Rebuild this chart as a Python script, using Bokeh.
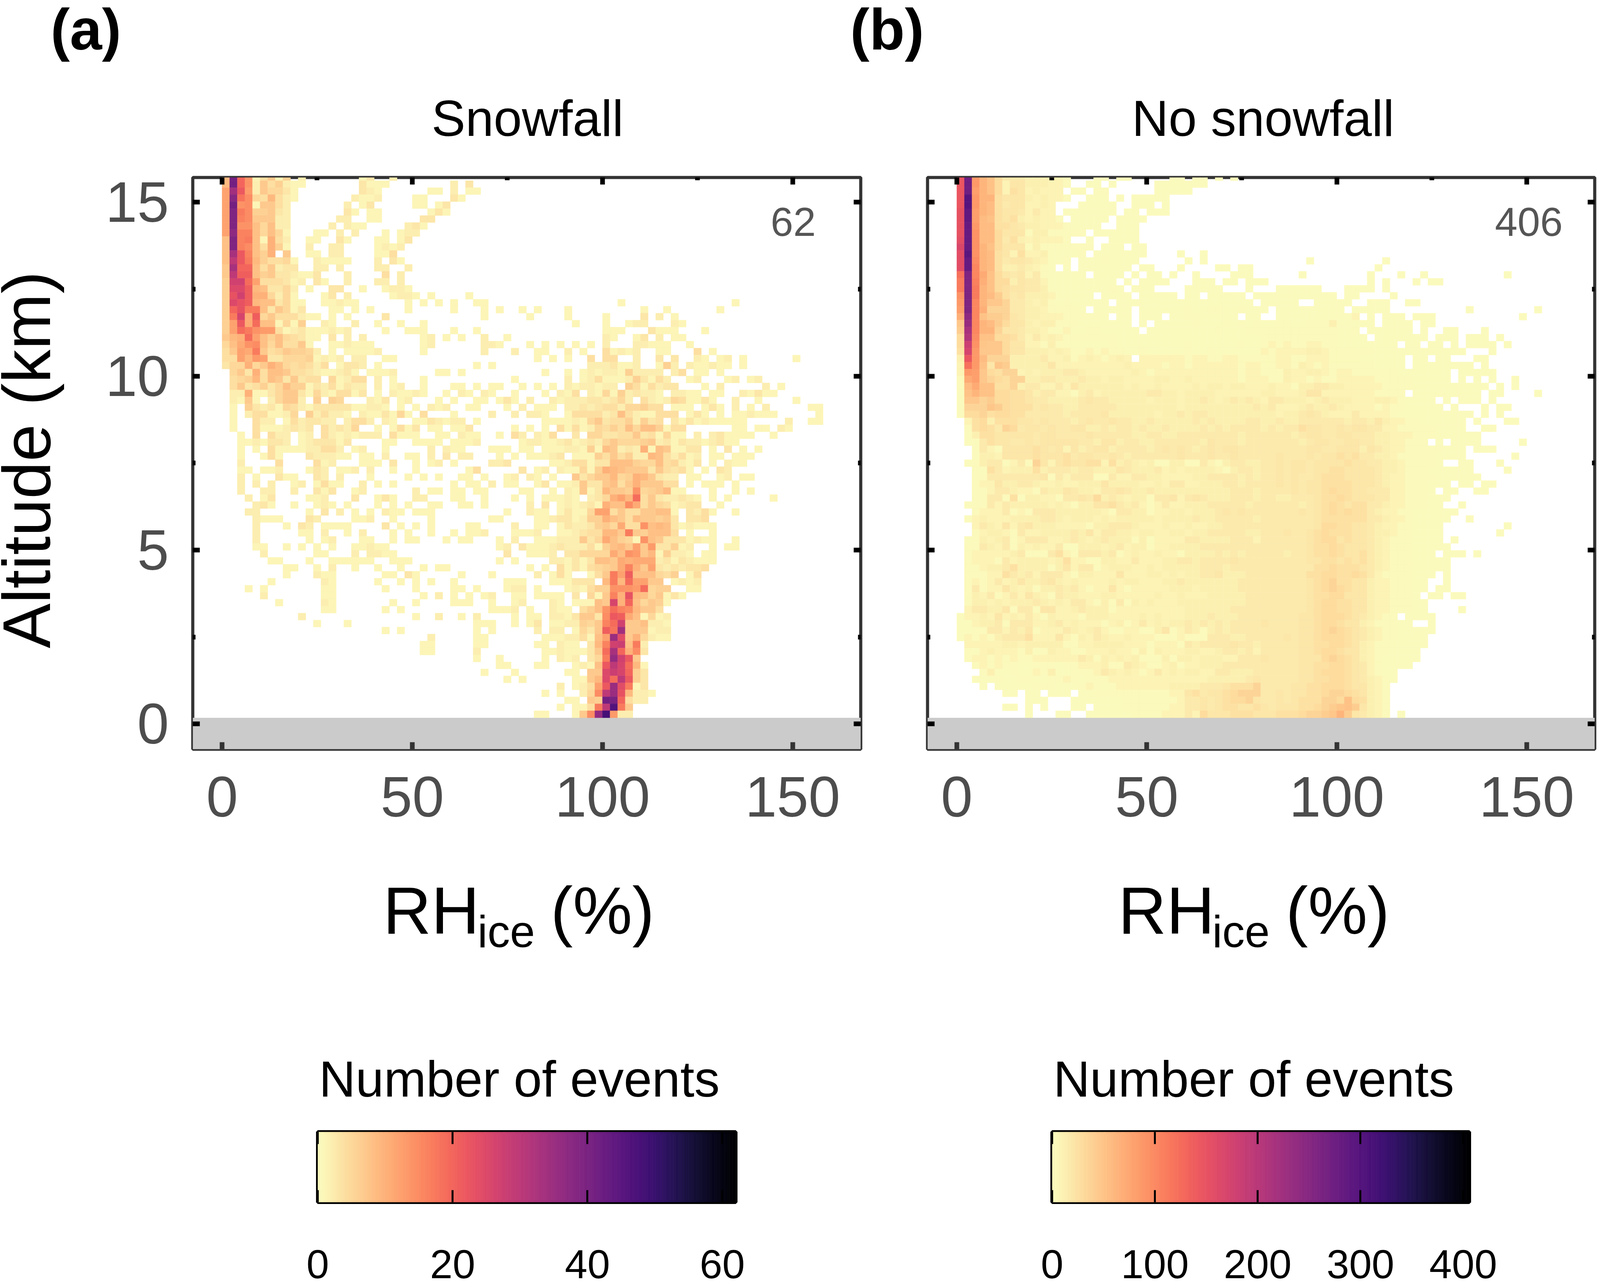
import numpy as np
from bokeh.embed import file_html
from bokeh.resources import INLINE
from bokeh.layouts import column, row
from bokeh.models import Label, LinearAxis, FixedTicker, Range1d, ColumnDataSource
from bokeh.palettes import Magma256
from bokeh.plotting import figure
from bokeh.transform import linear_cmap

# Each row (top of the plot first) holds "column:cells" pieces; a cell is one character of LEVELS.
LEVELS = "0123456789abcdefghijklmnopqrstuvwxyzABCDEFGHIJKLMNOPQRSTUVWXYZ"
RH_BIN = 2.0
ALT_BASE = 0.18
ALT_BIN = 0.2005
GROUND_TOP = 0.18

SNOWFALL_ROWS = [
"0:9Fke14716.2 18:13 22:2",
"0:9Fke2746211 18:3111 30:2.3",
"0:cymd275531 18:321 27:11 30:2 32:11",
"0:cCif549421 17:2112 25:11 30:31",
"0:cFef17742 16:2.13 25:11.13",
"0:cDhf66732 16:31 19:11 27:131",
"0:cDgf77722 15:22 19:11 26:33",
"0:cDee85822 14:2.211 24:231",
"0:cBgg85851 12:11.2.2 21:1.122",
"0:8Dgh81a42 11:11 15:31 20:11.13",
"0:8Dgf84a61 11:2 14:22 20:1212",
"0:8xmg86a.7 11:11 14:22 20:114",
"0:8umh964451 12:21111 20:2.31",
"0:7xkk847233 12:22.2 20:22..2",
"0:7ull86733211 12:3...2 21:4.2",
"0:6rrjc444312.31 16:2 20:22.2",
"0:6ppl983352.1 14:33 18:1 21:1221",
"0:6nrlaa5251 13:13.2 22:1221.1 32:1",
"0:6pnl9883511 13:11211 24:1.1.1.1 33:11 52:1 67:1",
"0:6knhh837513 14:11.1.1 24:1 30:1 34:1.1 39:1 41:1 45:1 55:1 58:1 65:1",
"0:6hqbl57444211 14:1.1 21:3 34:1 40:1 45:1 50:1 55:3 57:2 59:1",
"0:6cmbj881516 13:21 17:2 20:1 23:1 26:1 46:1 50:1 53:122 59:21",
"0:6cjhedd4123111212 21:1 24:111 30:1 33:1 50:111 56:3111 63:1",
"0:79ajc86854311.3.2.2 26:12.1.1 34:2 37:1 50:21 54:13.2.11",
"0:58bef8584471 14:112111 26:12 34:221 40:1.1.1.1.1.2 54:22111 61:1",
"0:47cbh74576652.1.11112 26:1 34:2 38:2 41:11 45:2.1 50:41212 57:11 62:4 64:1",
"0:44c9dc3355561212.22..11 41:1.1.1 48:4.44 54:2 57:3.3 62:21.12 68:1 75:1",
"0:355a57a8545424.1332.1 33:1.1 48:2223112 57:162 61:211211 68:1",
"1:573a4887443211231.1112 28:11 31:1 42:1 45:1.12122162222.24.11.1",
"1:456948737344.51244.2.1 26:1 38:1 45:2.124111263142 61:12 66:12 69:12",
"1:473463586613241322.2.12..1 30:11 33:1 35:11 39:1 41:1.1.2122122.6414233 63:1 65:2 71:2 73:1",
"1:22a113577315214413.1.21121..1.21.21..1 42:1 44:214.2151623221 59:2211 64:11 68:21311",
"1:2171.25772.6.65...213.12...1.1..11.131.2 43:21222332352.4212541131 67:2 70:1 75:1",
"1:1.6323154213333311221.1.1.212..11...1.2 41:111.2232344255644 59:111 63:131 67:2.1.2 77:11",
"1:1.2441125.624221.2113151.4...1....2..2.2 40:221 45:144442384211444 61:131 65:1 67:112111 78:1",
"1:1..422.1423322.2442.21..1132122.1 42:1111215734462634 59:3131211111 74:2 77:11",
"1:1..41112323.42325..1.1413.11.113.....1.1 40:1 42:1 44:41412546485886144 67:11 70:11 73:21",
"2:1.4.422.12.42121222.4111..11.211..1.42 41:214 46:3 48:5533447341511.2.231111..1",
"2:1121332.1233313....11..1111.1112.....11 39:12211231232575556723132212311",
"2:1.1.4111122442.12..1.....2.211...111.11 39:11.1112216187232a1871133.1.3.1.1",
"2:1..141...322211.11.2..11.2.3.22...1.1 36:1.1.11123.11164746229842412.11.111",
"2:2 7:4 12:412 18:111 22:3 25:1 27:12 30:1 35:223 43:11244133888655845213.1.211",
"2:11 5:112 11:132.112.2 22:1 25:1 32:14 39:3.12.211516a98777374341.1.32",
"2:2.1 7:311 12:32.2 19:1 24:1 26:1 28:1 31:11 34:1 37:12.21.1..73577956a97322.11..12.11",
"2:2.2.2 9:12 12:1411 18:2 20:1 22:1 30:1 32:11 35:2.11..13.1127337847a77744.1.111.1",
"2:2 5:22 9:2 12:313 17:12 25:2 27:11 30:11 33:11 39:11..1.217139776e567911...1..1.1",
"3:2.13 11:112 17:3 20:131 25:22 30:11 34:1 38:1.1.11121.235ac9j47322321.1.1.....1",
"4:231 9:1 12:121.1 20:1 22:1 24:1 27:11 31:11 34:1 40:2.3.121231a88fb47541233..1",
"3:22 11:1.3.2.1.1.2 22:11 25:111 37:1..211.13115cc474477881.3241..1",
"4:2111 11:32 17:112 22:1 27:1 35:11....112331266a874877673.334",
"4:2 8:1.32.1111 21:3.1.1.1 32:11 38:2..11.13223675b44e898312111",
"4:2 10:11.2 16:1.2 22:1.1 27:1 30:1 32:112 38:1112..112344997h768884.1..1",
"4:2 11:1.12 18:11 22:1.11 29:1.11 36:1.2..111222735b8651e873331211..1",
"4:11 8:1.1.1.1 17:11211 36:12.311123222416897c7d33612..1.11",
"5:2 12:11 17:2.2211 37:3..1112.335555b8ed7916221.11",
"6:11 11:1 14:111111 22:111 36:1.1....221313887babbb23132111",
"8:11 12:1.2 17:1 20:1 23:1 26:1 28:11 40:1.1.41314567bga7c3232334",
"8:1 12:211 21:11.31 31:1 35:1 41:2.141..147hcl888546.14",
"6:1 13:21 20:1 23:1 25:1 27:1 30:1 37:111...111333.9h9jcc77.1212",
"3:1.1 13:11 21:1 25:1 30:11 33:1 37:122.1...121466eeedj566..11",
"5:2 13:11 26:1.2 30:1.1 34:1 35:2..11.1111.3.517gan9857131",
"7:1 13:21 22:1 25:1 30:111 35:1..12...21.11187qak85761",
"13:11 21:1 23:1 35:1112.1..211.468ejgf9774",
"10:2 25:1 28:2 31:1 33:2 38:1.11.2213773fmlb81512",
"12:1 16:1 33:11 35:1..1.13.1122657gjr778221",
"21:1 23:1 33:1.1 41:2.22.1537liy777122",
"27:2 33:11 42:11122418czo7a5211",
"26:11 33:11 41:11.211.39grs8h2",
"26:11 33:2 42:11211137jxkaf3",
"33:1 36:1 42:1.212.35hArm7",
"36:11 41:11...1218muqj91",
"34:1 38:1 45:11.77psqk63",
"37:1.1 46:1179pjum63",
"44:2.124cmzoh13",
"42:1.1 47:25fuzn9221",
"45:11.76FEk422",
"44:1.114huKh7",
"41:11 46:17fAMd22",
]

# In this panel the levels stand for event counts through NOSNOW_COUNTS below.
NO_SNOWFALL_ROWS = [
"0:vUjec7444333221 18:00 21:00 28:00 31:00 34:0 36:0",
"0:vUjec7255333221 17:00.0 26:0000000",
"0:vUiec726523222.11.11 26:00000",
"0:vZjee6555323221..000.0.00000",
"0:vZjed64552232 16:00000 23:000 27:0",
"0:wXied65542422.0000000.00.000",
"0:wXidc656323221.00000.0000",
"0:wWjdd66543322210000..000",
"0:wWkdd755513311111.000000",
"0:xWkdd7463232221..0..0000",
"0:zWkec7555131111111.000.00",
"0:xYked652622300001.0000000 29:0 32:0",
"0:xWled6455432001.00010000 30:0 32:0 46:0 56:0",
"0:xWmed63343210.0.0000000.00 29:0 34:00 37:00 55:0",
"0:qRmgc754524100000.0000.0.00 28:0 31:0 36:000 45:0 54:0 58:0 61:0 72:0",
"0:oRnfc7735442000000000.0.0000 31:000 35:00 38:000 54:0 56:0 60:0 62:00",
"0:oRoec76554430000000010.000....00000...0 42:000000 51:0000 56:0",
"0:kRoed964533320000 17:0.0000.00000.00.00000.00 41:000000000 51:00 57:0",
"0:jRmebb8443 10:2310100000 20:.000000000 30:000000000. 40:00000 47:00000 54:000 59:00",
"0:iRmf888443 10:3211110.00 20:000.000000 30:1001100100 40:0.00000000 50:0.00000 67:0 76:0",
"0:fOmc998543 10:3222111110 20:.00.000.00 30:1100000.00 40:..00000000 50:002.0.000. 60:000 74:0",
"0:bMmed97553 10:2331110000 20:000.0.0000 30:0100010101 40:0011001113 50:00000.0000 60:.00",
"0:9Jmee85543 10:3210200110 20:0000.00000 30:0000100011 40:1111111111 50:001.000000 60:.0 64:00 69:0",
"0:7Hlcc77642 10:4232111111 20:1000000000 30:0000000000 40:1111111111 50:0000.00000 60:00.000.000 71:0",
"0:7Ckabb7552 10:2131100000 20:1000000000 30:1000000100 40:1212112211 50:00000000.0 60:0.00.0.0000.0",
"0:6Ajbbb7553 10:3323211212 20:1100100000 30:1001000000 40:2122223321 50:1111100000 60:0000000 70:0",
"0:3vjd888333 10:3422312321 20:232.222222 30:1221122111 40:1122112221 50:111000000. 60:00.00 68:00",
"0:2qjc5a9333 10:3352222222 20:2232222122 30:1222222122 40:1122132121 50:111110000. 60:00000000.0",
"0:2jib768823 10:2333443222 20:2223212222 30:2222222122 40:1113223321 50:2211111100 60:00000.0000 70:0",
"0:1gib876883 10:3443334332 20:3322223322 30:3222222122 40:2113221211 50:2222211111 60:00000.0.0.0 73:0",
"0:1dgcc66834 10:4224253333 20:3323223222 30:2323323322 40:2322133443 50:3222221111 60:0000000000 71:0 73:0",
"0:0cecc77665 10:3442213423 20:3333344332 30:3333222222 40:3322235522 50:222221111. 60:000000000. 70:00 76:0",
"0:0bb8977665 10:4433334544 20:3333323332 30:3343234343 40:2443332343 50:3322233210 60:000.0.000.0",
"0:0888a97666 10:4544334444 20:4333333332 30:3333333334 40:3422234334 50:3222212110 60:0000.0...0 71:00",
"0:0778677664 10:4444344445 20:3333332334 30:3443333333 40:3323345432 50:2242222100 60:00000000.0 71:0",
"0:.267366655 10:4544434544 20:5443343333 30:3434333344 40:3343344444 50:4344353221 60:1000000 68:0 72:00",
"0:.167648745 10:5454455334 20:3443433433 30:3343434444 40:3434465544 50:5455442211 60:1110000 69:00",
"0:.036655555 10:4554444544 20:4443344334 30:4444444344 40:4444345544 50:5544433222 60:111000000",
"0:.004655445 10:4555554435 20:5344334444 30:4435444344 40:4444434554 50:4554433221 60:11.0.0000 74:0",
"0:..04215555 10:6545253455 20:3444434545 30:4345455444 40:4444445544 50:5553543221 60:1111000 68:000",
"0:..03325555 10:6555645544 20:5434444445 30:4445445444 40:4454445455 50:6564433211 60:1110000 73:0",
"0:.013441241 10:8525655662 20:6343231133 30:1142134433 40:4454554555 50:5655443321 60:1110 66:00 71:0",
"0:..10642333 10:6344434433 20:3543334232 30:3333213443 40:4454554556 50:6555543321 60:11000000 72:0",
"0:..11444444 10:4514244411 20:4224433222 30:2334444343 40:4454544566 50:6555543221 60:111000000",
"0:..12253344 10:3223223335 20:3333223244 30:2233344344 40:4454545566 50:6655543221 60:11000.00.00",
"0:..11244322 10:1433543324 20:4543343333 30:3333334443 40:4444545567 50:6655444221 60:110.00 68:00",
"0:..11441603 10:3221445473 20:4323314452 30:4543334443 40:4433444566 50:7655544221 60:11000",
"0:.011424333 10:3323213355 20:6434212422 30:3334444434 40:4444434567 50:6566443221 60:1100..0",
"0:..12224121 10:4443333332 20:1443312233 30:2333454544 40:4444454567 50:6766432211 60:000000",
"0:.023222333 10:3443233323 20:2333332333 30:3433444443 40:4444444566 50:6666443221 60:00000 67:0",
"0:..24325245 10:3332222133 20:4443222322 30:3223344444 40:4444444577 50:6655432211 60:0000 72:0",
"0:..12332142 10:2333343524 20:4332332233 30:2334444433 40:4445445676 50:6655433211 60:0000 71:0",
"0:.013234124 10:4422343234 20:3331302222 30:4433334442 40:4444445677 50:5655432111 60:0000.0",
"0:.114324132 10:3224003332 20:3423312233 30:3344444444 40:4444445667 50:6555432111 60:00000",
"0:.122222341 10:1146214443 20:4123223221 30:3333434344 40:4443445667 50:6556432111 60:000.000 68:0",
"0:.122214233 10:3323622113 20:3224222334 30:4344445444 40:4444445566 50:5656432111 60:00000",
"0:.112334633 10:3313524412 20:3332232333 30:3344434444 40:4444444667 50:6665432111 60:00000",
"0:.111226434 10:2444213322 20:2522233232 30:3344533344 40:4444446677 50:6676421111 60:000.0",
"0:.121242353 10:3453232222 20:3233222334 30:3333333444 40:4444445678 50:6655322111 60:00..0",
"0:.141225323 10:1334342122 20:5212222233 30:3233333444 40:4444445678 50:7655322111 60:00.00",
"0:.132412425 10:3214332223 20:3222223223 30:2223333344 40:4444445667 50:7555322111 60:0.00.00",
"0:.133232333 10:4323244213 20:1413232223 30:3333333344 40:4444445677 50:6655322111 60:00",
"0:.244335144 10:1552234333 20:1222222222 30:3333334444 40:4444445677 50:6655322111 60:00 66:0",
"0:0223252324 10:2132221333 20:2222323222 30:3334333444 40:4444455677 50:76543211.0 60:000",
"0:0023341444 10:2234232221 20:2312423233 30:4343434444 40:5444455677 50:6553211100 60:..0",
"0:0011442435 10:1222432342 20:1122113512 30:4313434444 40:4444455678 50:7654321100 60:000",
"0:0212134446 10:2225213243 20:2232221112 30:1114443344 40:4445455677 50:7654321100 60:00",
"0:.222223323 10:3333112233 20:3322212221 30:4344445443 40:4444455667 50:7653211000 60:00",
"0:.102322213 10:0132211222 20:3221313222 30:3322344342 40:4444455677 50:6553211000 60:0",
"0:.122121211 10:2222224313 20:2323111313 30:3233322444 40:5444455578 50:7653210000 60:0",
"0:..12121100 10:1110112223 20:1143211231 30:2233344444 40:4444455667 50:7654210000",
"0:...1300100 10:2130011124 20:3232124232 30:3322443334 40:4444455677 50:76542100",
"0:..00010011 10:0011210111 20:2222222222 30:2223333345 40:4444455667 50:76543210",
"0:...0.00000 10:1110001210 20:1222222233 30:3344456668 40:4444556677 50:7655321",
"0:......00.0 10:0.000.0011 20:1111111122 30:5645567888 40:4454556678 50:8765321",
"0:.........0 10:00...00000 20:0011111112 30:4454567785 40:4454566688 50:7c76321",
"0:......00.0 10:.0...00.00 20:0011111122 30:4454566556 40:5455566789 50:ac95321",
"0:.........0 10:...00..000 20:0001111222 30:4275556665 40:556667889a 50:e954321 58:0",
]

SNOW_COUNTS = [i for i in range(62)]
NOSNOW_COUNTS = [2, 4, 8, 12, 16, 20, 25, 30, 35, 42, 48] + [5 * i - 8 for i in range(11, 62)]
SNOW_MAX = 62
NOSNOW_MAX = 406
SNOW_LABEL = "62"
NOSNOW_LABEL = "406"
RH_TICKS = [0, 50, 100, 150]
RH_MINOR = [25, 75, 125]
ALT_TICKS = [0, 5, 10, 15]
ALT_MINOR = [2.5, 7.5, 12.5]
SNOW_BAR_TICKS = [0, 20, 40, 60]
NOSNOW_BAR_TICKS = [0, 100, 200, 300, 400]
XLIM = (-7.706, 167.9)
YLIM = (-0.725, 15.71)

PALETTE = list(reversed(Magma256))
FONT = "Liberation Sans"
GREY = "#4d4d4d"
# The browser's usable window is 4096 px wide, so the page is narrowed to fit it.
SX = 4096 / 4587
PAGE_W = 4089


def sx(v):
    return int(round(v * SX))


def decode(rows, counts):
    left, right, bottom, top, val = [], [], [], [], []
    n = len(rows)
    for r, line in enumerate(rows):
        cells = {}
        for token in line.split():
            start, body = token.split(":")
            start = int(start)
            for j, ch in enumerate(body):
                if ch == ".":
                    cells.pop(start + j, None)
                else:
                    cells[start + j] = LEVELS.index(ch)
        k = n - 1 - r
        for c, lev in cells.items():
            left.append(c * RH_BIN)
            right.append((c + 1) * RH_BIN)
            bottom.append(ALT_BASE + k * ALT_BIN)
            top.append(ALT_BASE + (k + 1) * ALT_BIN)
            val.append(counts[lev])
    return dict(left=left, right=right, bottom=bottom, top=top, v=val)


def text_figure(x0, x1, y0, y1):
    """A figure with no axes whose data coordinates are page pixels, for free-standing texts."""
    p = figure(width=x1 - x0, height=y1 - y0, x_range=Range1d(x0, x1), y_range=Range1d(y1, y0),
               min_border=0, toolbar_location=None, output_backend="svg",
               x_axis_type=None, y_axis_type=None)
    p.grid.visible = False
    p.outline_line_color = None
    return p


def add_text(p, x, y, text, size, color="black", align="left", style="normal", angle=0.0):
    p.add_layout(Label(x=x, y=y, text=text, text_font=FONT, text_font_size=f"{size}px",
                       text_color=color, text_align=align, text_baseline="alphabetic",
                       text_font_style=style, angle=angle))


def blank_labels(ax, ticks):
    ax.major_label_overrides = {t: "" for t in ticks}
    ax.major_label_text_font_size = "0px"
    ax.major_label_standoff = 0


def panel(rows, counts, vmax, frame_left, frame_right, fig_left, fig_right, peak, peak_x, show_y):
    frame_top, frame_bottom = 454, 1918
    fig_top, fig_bottom = 440, 2180
    p = figure(width=fig_right - fig_left, height=fig_bottom - fig_top,
               frame_width=frame_right - frame_left, frame_height=frame_bottom - frame_top,
               x_range=Range1d(*XLIM), y_range=Range1d(*YLIM),
               min_border_left=frame_left - fig_left, min_border_right=fig_right - frame_right,
               min_border_top=frame_top - fig_top, min_border_bottom=fig_bottom - frame_bottom,
               toolbar_location=None, output_backend="svg", x_axis_type=None, y_axis_type=None)
    p.grid.visible = False
    p.outline_line_color = "#333333"
    p.outline_line_width = 8
    p.border_fill_color = "white"
    p.background_fill_color = "white"

    p.quad(left=[XLIM[0]], right=[XLIM[1]], bottom=[YLIM[0]], top=[GROUND_TOP],
           fill_color="#cbcbcb", line_color=None)
    src = ColumnDataSource(decode(rows, counts))
    cmap = linear_cmap("v", PALETTE, 0, vmax)
    p.quad(left="left", right="right", bottom="bottom", top="top", source=src,
           fill_color=cmap, line_color=cmap, line_width=0.6)

    def make_axis(ticks, minor, color, labels, use_minor=True):
        ax = LinearAxis(ticker=FixedTicker(ticks=ticks, minor_ticks=minor if use_minor else []))
        ax.axis_line_color = None
        ax.major_tick_in = 18
        ax.major_tick_out = 0
        ax.minor_tick_in = 7
        ax.minor_tick_out = 0
        ax.major_tick_line_width = 12
        ax.minor_tick_line_width = 12
        ax.major_tick_line_color = color
        ax.minor_tick_line_color = color
        ax.major_tick_line_cap = "butt"
        if labels:
            ax.major_label_text_font = FONT
            ax.major_label_text_font_size = "146px"
            ax.major_label_text_color = GREY
        else:
            blank_labels(ax, ticks)
        return ax

    bottom_ax = make_axis(RH_TICKS, RH_MINOR, "#333333", True, False)
    bottom_ax.major_label_standoff = 71
    p.add_layout(bottom_ax, "below")
    p.add_layout(make_axis(RH_TICKS, RH_MINOR, "black", False), "above")
    left_ax = make_axis(ALT_TICKS, ALT_MINOR, "black", show_y)
    if show_y:
        left_ax.major_label_standoff = 61
    p.add_layout(left_ax, "left")
    p.add_layout(make_axis(ALT_TICKS, ALT_MINOR, "black", False), "right")

    x_of = lambda px: XLIM[0] + (px - frame_left) / (frame_right - frame_left) * (XLIM[1] - XLIM[0])
    y_of = lambda px: YLIM[0] + (frame_bottom - px) / (frame_bottom - frame_top) * (YLIM[1] - YLIM[0])
    add_text(p, x_of(peak_x), y_of(606 - 0.37 * 104), peak, 104, color="#555555", align="right")
    return p


def colorbar(vmax, ticks, frame_left, frame_right, fig_left, fig_right):
    frame_top, frame_bottom = 2898, 3078
    fig_top, fig_bottom = 2880, 3285
    p = figure(width=fig_right - fig_left, height=fig_bottom - fig_top,
               frame_width=frame_right - frame_left, frame_height=frame_bottom - frame_top,
               x_range=Range1d(0, vmax), y_range=Range1d(0, 1),
               min_border_left=frame_left - fig_left, min_border_right=fig_right - frame_right,
               min_border_top=frame_top - fig_top, min_border_bottom=fig_bottom - frame_bottom,
               toolbar_location=None, output_backend="svg", x_axis_type=None, y_axis_type=None)
    p.grid.visible = False
    p.outline_line_color = "black"
    p.outline_line_width = 9
    p.border_fill_color = "white"
    edges = np.linspace(0, vmax, 257)
    p.quad(left=edges[:-1], right=edges[1:], bottom=0, top=1,
           fill_color=PALETTE, line_color=PALETTE, line_width=0.6)
    for side, labels in (("below", True), ("above", False)):
        ax = LinearAxis(ticker=FixedTicker(ticks=ticks))
        ax.axis_line_color = None
        ax.major_tick_in = 31
        ax.major_tick_out = 0
        ax.minor_tick_in = 0
        ax.minor_tick_out = 0
        ax.major_tick_line_width = 5
        ax.major_tick_line_color = "black"
        if labels:
            ax.major_label_text_font = FONT
            ax.major_label_text_font_size = "104px"
            ax.major_label_text_color = "black"
            ax.major_label_standoff = 122
        else:
            blank_labels(ax, ticks)
        p.add_layout(ax, side)
    return p


def base(y, size):
    return y - 0.37 * size


SPLIT = sx(2600)
ALT_W = 200

top_texts = text_figure(0, PAGE_W, 0, 440)
add_text(top_texts, sx(145), base(130, 148), "(a)", 148, style="bold")
add_text(top_texts, sx(2437), base(130, 148), "(b)", 148, style="bold")
add_text(top_texts, sx(1512), base(351, 130), "Snowfall", 130, align="center")
add_text(top_texts, sx(3621), base(351, 130), "No snowfall", 130, align="center")

alt_text = text_figure(0, ALT_W, 440, 2180)
add_text(alt_text, 67, 1299, "Altitude (km)", 172, align="center", angle=np.pi / 2)

low_texts = text_figure(0, PAGE_W, 2180, 2880)
for shift, bar_x in ((0, 1488), (2107, 3594)):
    add_text(low_texts, sx(1098 + shift), base(2394, 171), "RH", 171)
    add_text(low_texts, sx(1368 + shift), base(2427, 115), "ice", 115)
    add_text(low_texts, sx(1578 + shift), base(2394, 171), "(%)", 171)
    add_text(low_texts, sx(bar_x), base(2811, 130), "Number of events", 130, align="center")

pa = panel(SNOWFALL_ROWS, SNOW_COUNTS, SNOW_MAX, sx(552), sx(2467), ALT_W, SPLIT, SNOW_LABEL, sx(2338), True)
pb = panel(NO_SNOWFALL_ROWS, NOSNOW_COUNTS, NOSNOW_MAX, sx(2659), sx(4571), SPLIT, PAGE_W, NOSNOW_LABEL, sx(4479), False)
ca = colorbar(SNOW_MAX, SNOW_BAR_TICKS, sx(911), sx(2109), 0, SPLIT)
cb = colorbar(NOSNOW_MAX, NOSNOW_BAR_TICKS, sx(3016), sx(4212), SPLIT, PAGE_W)

page = column(top_texts, row(alt_text, pa, pb, spacing=0), low_texts, row(ca, cb, spacing=0), spacing=0)
open("out.html", "w").write(file_html(page, INLINE))
